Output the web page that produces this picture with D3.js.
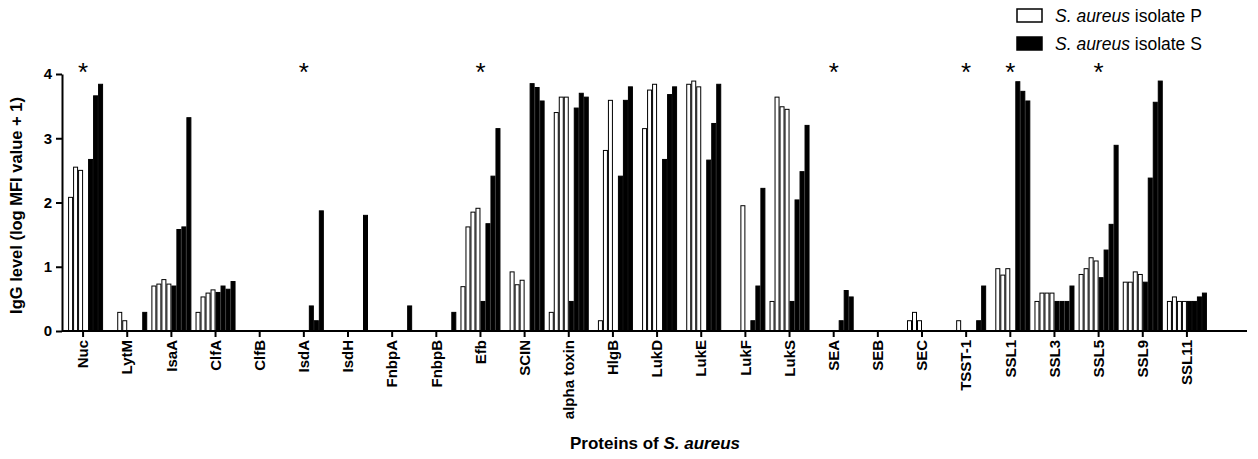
<!DOCTYPE html>
<html>
<head>
<meta charset="utf-8">
<script src="https://cdn.jsdelivr.net/npm/d3@7"></script>
<style>
  body { margin: 0; background: #fff; }
  text { font-family: "Liberation Sans", Arial, sans-serif; }
</style>
</head>
<body>
<svg class="chart"></svg>
<script>
const categories = ["Nuc", "LytM", "IsaA", "ClfA", "ClfB", "IsdA", "IsdH", "FnbpA", "FnbpB", "Efb",
    "SCIN", "alpha toxin", "HlgB", "LukD", "LukE", "LukF", "LukS", "SEA", "SEB", "SEC",
    "TSST-1", "SSL1", "SSL3", "SSL5", "SSL9", "SSL11"];

// four samples per protein, isolate P (white bars)
const isolateP = [
    [0, 2.08, 2.55, 2.50], [0, 0, 0.29, 0.16], [0.70, 0.73, 0.80, 0.73], [0.29, 0.53, 0.59, 0.64],
    [0, 0, 0, 0], [0, 0, 0, 0], [0, 0, 0, 0], [0, 0, 0, 0], [0, 0, 0, 0],
    [0.69, 1.62, 1.85, 1.91], [0, 0.92, 0.72, 0.79], [0.29, 3.40, 3.64, 3.64], [0, 0.16, 2.81, 3.59],
    [0, 3.15, 3.75, 3.84], [0, 3.84, 3.89, 3.80], [0, 0, 0, 1.95], [0.46, 3.64, 3.49, 3.45],
    [0, 0, 0, 0], [0, 0, 0, 0], [0, 0.16, 0.29, 0.16], [0, 0, 0.16, 0],
    [0, 0.97, 0.87, 0.97], [0.46, 0.59, 0.59, 0.59], [0.88, 0.97, 1.14, 1.09],
    [0.76, 0.76, 0.92, 0.88], [0.46, 0.53, 0.46, 0.46]
];

// isolate S (black bars)
const isolateS = [
    [0, 2.67, 3.66, 3.84], [0, 0, 0, 0.29], [0.70, 1.58, 1.62, 3.32], [0.60, 0.70, 0.65, 0.77],
    [0, 0, 0, 0], [0, 0.39, 0.16, 1.87], [0, 0, 0, 1.80], [0, 0, 0, 0.39], [0, 0, 0, 0.29],
    [0.46, 1.67, 2.41, 3.15], [0, 3.85, 3.79, 3.58], [0.46, 3.47, 3.70, 3.64], [0, 2.41, 3.59, 3.80],
    [0, 2.67, 3.68, 3.80], [0, 2.66, 3.23, 3.84], [0, 0.16, 0.70, 2.22], [0.46, 2.04, 2.48, 3.20],
    [0, 0.16, 0.63, 0.53], [0, 0, 0, 0], [0, 0, 0, 0], [0, 0, 0.16, 0.70],
    [0, 3.88, 3.73, 3.58], [0.46, 0.46, 0.46, 0.70], [0.83, 1.26, 1.66, 2.89],
    [0.76, 2.38, 3.56, 3.89], [0.46, 0.46, 0.53, 0.59]
];

const starred = ["Nuc", "IsdA", "Efb", "SEA", "TSST-1", "SSL1", "SSL5"];
const yTicks = [0, 1, 2, 3, 4];

const W = 1258, H = 459;
const svg = d3.select(".chart").attr("width", W).attr("height", H);

const x = d3.scaleBand().domain(categories).range([61, 1209]);
const y = d3.scaleLinear().domain([0, 4]).range([331, 74]);

const groupW = 40;
const slot = d3.scaleBand()
    .domain(d3.range(8))
    .range([(x.bandwidth() - groupW) / 2, (x.bandwidth() + groupW) / 2]);

const bars = categories.flatMap((c, i) => [
    ...isolateP[i].map((v, j) => ({c, k: j, v, fill: "#fff"})),
    ...isolateS[i].map((v, j) => ({c, k: j + 4, v, fill: "#000"}))
]).filter(d => d.v > 0);

svg.append("g")
    .selectAll("rect")
    .data(bars)
    .join("rect")
    .attr("x", d => x(d.c) + slot(d.k) + 0.5)
    .attr("width", slot.bandwidth() - 1)
    .attr("y", d => y(d.v))
    .attr("height", d => y(0) - y(d.v))
    .attr("fill", d => d.fill)
    .attr("stroke", "#000")
    .attr("stroke-width", 1);

// x axis
const xAxis = svg.append("g")
    .attr("transform", `translate(0,${y(0)})`)
    .call(d3.axisBottom(x).tickSize(6).tickSizeOuter(0));
xAxis.select(".domain").remove();
xAxis.selectAll(".tick line").attr("stroke", "#000").attr("stroke-width", 2);
xAxis.selectAll(".tick text")
    .attr("transform", "rotate(-90)")
    .attr("text-anchor", "end")
    .attr("x", -9)
    .attr("y", 0)
    .attr("dy", "0.35em")
    .attr("fill", "#000")
    .style("font-size", "15px")
    .style("font-weight", "bold")
    .style("font-family", '"Liberation Sans", Arial, sans-serif');
svg.append("line")
    .attr("x1", 62).attr("x2", 1247)
    .attr("y1", y(0)).attr("y2", y(0))
    .attr("stroke", "#000").attr("stroke-width", 2);

// y axis
const yAxis = svg.append("g")
    .attr("transform", "translate(62,0)")
    .call(d3.axisLeft(y).tickValues(yTicks).tickFormat(d3.format("d")).tickSize(6).tickSizeOuter(0));
yAxis.select(".domain").attr("stroke", "#000").attr("stroke-width", 2);
yAxis.selectAll(".tick line").attr("stroke", "#000").attr("stroke-width", 2);
yAxis.selectAll(".tick text")
    .attr("x", -10)
    .attr("fill", "#000")
    .style("font-size", "15px")
    .style("font-weight", "bold")
    .style("font-family", '"Liberation Sans", Arial, sans-serif');

// significance marks
svg.append("g")
    .selectAll("text")
    .data(starred)
    .join("text")
    .attr("x", d => x(d) + x.bandwidth() / 2)
    .attr("y", 81)
    .attr("text-anchor", "middle")
    .style("font-size", "26px")
    .text("*");

// axis titles
svg.append("text")
    .attr("transform", `translate(22,${(y(0) + y(4)) / 2 + 3}) rotate(-90)`)
    .attr("text-anchor", "middle")
    .style("font-size", "16.5px")
    .style("font-weight", "bold")
    .text("IgG level (log MFI value + 1)");

const xt = svg.append("text")
    .attr("x", 655)
    .attr("y", 449)
    .attr("text-anchor", "middle")
    .style("font-size", "17px")
    .style("font-weight", "bold");
xt.append("tspan").text("Proteins of ");
xt.append("tspan").style("font-style", "italic").text("S. aureus");

// legend
const legendItems = [{label: "isolate P", fill: "#fff"}, {label: "isolate S", fill: "#000"}];
const lg = svg.append("g")
    .selectAll("g")
    .data(legendItems)
    .join("g")
    .attr("transform", (d, i) => `translate(1017,${9 + i * 28})`);
lg.append("rect")
    .attr("width", 25).attr("height", 13)
    .attr("fill", d => d.fill)
    .attr("stroke", "#000").attr("stroke-width", 1.5);
const lt = lg.append("text")
    .attr("x", 38).attr("y", 13)
    .style("font-size", "17.5px");
lt.append("tspan").style("font-style", "italic").text("S. aureus");
lt.append("tspan").text(d => " " + d.label);
</script>
</body>
</html>
